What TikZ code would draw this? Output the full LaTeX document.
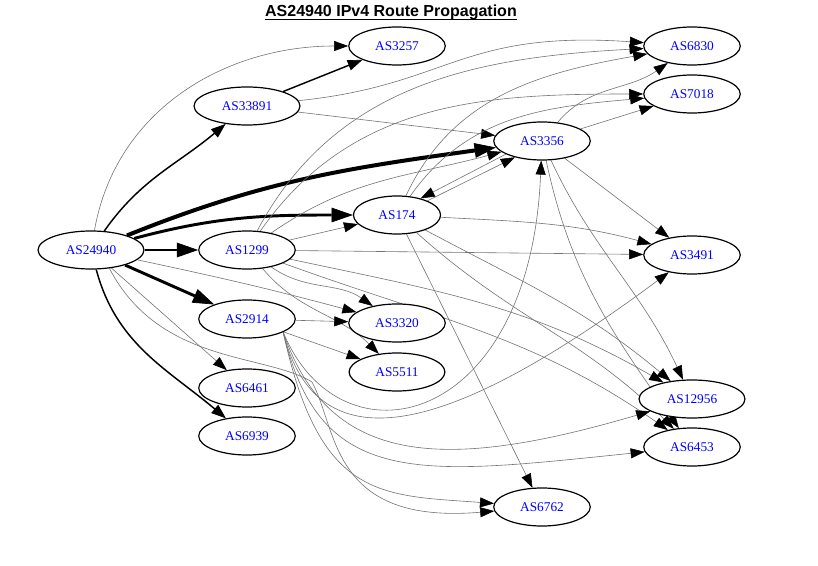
\documentclass[tikz,border=0pt]{standalone}
\usepackage{fontspec}
\setmainfont{Liberation Serif}
\newfontfamily\ttlfont{Liberation Sans}
\usetikzlibrary{arrows.meta}
\usetikzlibrary{shapes.geometric}
\usetikzlibrary{backgrounds}
\colorlet{aslabel}{blue}
\colorlet{thinedge}{black!55}
\tikzset{gvp/.style={
  x=0.75pt,
  y=0.75pt
}}
\tikzset{asn/.style={
  draw,
  line width=0.9pt,
  fill=white,
  shape=ellipse,
  inner xsep=9.2pt,
  inner ysep=2pt,
  minimum height=28.5pt,
  text=aslabel,
  font=\fontsize{10}{12}\selectfont
}}
\tikzset{ttl/.style={
  anchor=base,
  inner sep=0pt,
  font={\ttlfont\bfseries\fontsize{12}{14}\selectfont}
}}
\tikzset{thn/.style={
  draw=thinedge,
  line width=0.45pt,
  -{Triangle[length=10.5pt,width=7.5pt,line width=0.4pt,black]}
}}
\tikzset{med/.style={
  draw=black,
  line width=1.1pt,
  -{Triangle[length=11pt,width=8pt,line width=0.5pt]}
}}
\tikzset{thk/.style={
  draw=black,
  line width=2.2pt,
  -{Triangle[length=16pt,width=11pt,line width=0.5pt]}
}}
\tikzset{vth/.style={thk,line width=3pt}}

\begin{document}
\begin{tikzpicture}[gvp]

    \useasboundingbox (0,0) rectangle (818,565);

    %% Title

    \node[ttl] (title) at (391,548) {AS24940 IPv4 Route Propagation};
    \draw[line width=0.9pt]
      ([yshift=-1.6pt]title.base west) -- ([yshift=-1.6pt]title.base east);

    %% Autonomous systems

    % Left columns
    \node[asn] (AS24940) at (91,315) {AS24940};
    \node[asn] (AS33891) at (247,459) {AS33891};
    \node[asn] (AS1299) at (247,315) {AS1299};
    \node[asn] (AS2914) at (247,246) {AS2914};
    \node[asn] (AS6461) at (247,177) {AS6461};
    \node[asn] (AS6939) at (247,129) {AS6939};
    \node[asn] (AS3257) at (397,519) {AS3257};
    \node[asn] (AS174) at (397,350) {AS174};
    \node[asn] (AS3320) at (397,242) {AS3320};
    \node[asn] (AS5511) at (397,193) {AS5511};

    % Right columns
    \node[asn] (AS3356) at (542,424) {AS3356};
    \node[asn] (AS6762) at (542,58) {AS6762};
    \node[asn] (AS6830) at (692,519) {AS6830};
    \node[asn] (AS7018) at (692,471) {AS7018};
    \node[asn] (AS3491) at (692,310) {AS3491};
    \node[asn] (AS12956) at (692,166) {AS12956};
    \node[asn] (AS6453) at (692,118) {AS6453};

    \coordinate (via6762) at (312,183);

    %% Propagation edges

    \begin{scope}[on background layer]
    % From the origin
    \draw[thn] (AS24940) to[out=80,in=180] (AS3257);
    \draw[med] (AS24940) to[out=55,in=220] (AS33891);
    \draw[vth] (AS24940) to[out=22,in=188] (AS3356);
    \draw[thk] (AS24940) to[out=15,in=180] (AS174);
    \draw[thk] (AS24940) -- (AS1299);
    \draw[thk] (AS24940) -- (AS2914);
    \draw[thn] (AS24940) -- (AS6461);
    \draw[med] (AS24940) to[out=-75,in=140] (AS6939);
    \draw[thn] (AS24940) to[out=-12,in=165] (AS3320);
    \draw[thn] (AS24940.-45) .. controls (160,200) and (265,212) .. (via6762)
      .. controls (338,135) and (330,40) .. (AS6762);

    % AS33891
    \draw[med] (AS33891) -- (AS3257);
    \draw[thn] (AS33891) .. controls (450,480) and (460,535) .. (AS6830);
    \draw[thn] (AS33891) -- (AS3356);

    % AS1299
    \draw[thn] (AS1299) -- (AS174);
    \draw[thn] (AS1299) to[out=35,in=195] (AS3356);
    \draw[thn] (AS1299) to[out=62,in=183] (AS6830);
    \draw[thn] (AS1299) to[out=55,in=180] (AS7018);
    \draw[thn] (AS1299) -- (AS3491);
    \draw[thn] (AS1299) to[out=-35,in=145] (AS3320);
    \draw[thn] (AS1299) to[out=-50,in=135] (AS5511);
    \draw[thn] (AS1299) to[out=-12,in=150] (AS12956);
    \draw[thn] (AS1299) to[out=-20,in=145] (AS6453);

    % AS174
    \draw[thn] (AS174.25) -- (AS3356.211);
    \draw[thn] (AS174) to[out=65,in=190] (AS6830);
    \draw[thn] (AS174) to[out=55,in=185] (AS7018);
    \draw[thn] (AS174) to[out=-3,in=165] (AS3491);
    \draw[thn] (AS174) to[out=-28,in=140] (AS12956);
    \draw[thn] (AS174) to[out=-42,in=135] (AS6453);
    \draw[thn] (AS174) -- (AS6762);

    % AS3356
    \draw[thn] (AS3356.200) -- (AS174.35);
    \draw[thn] (AS3356) to[out=50,in=215] (AS6830);
    \draw[thn] (AS3356) -- (AS7018);
    \draw[thn] (AS3356) -- (AS3491);
    \draw[thn] (AS3356) to[out=-65,in=115] (AS12956);
    \draw[thn] (AS3356) to[out=-78,in=125] (AS6453);

    % AS2914
    \draw[thn] (AS2914) -- (AS3320);
    \draw[thn] (AS2914) -- (AS5511);
    \draw[thn] (AS2914.-20) .. controls (340,95) and (530,135) .. (AS3356);
    \draw[thn] (AS2914.-20) .. controls (320,85) and (470,145) .. (AS3491);
    \draw[thn] (AS2914.-20) .. controls (330,95) and (450,95) .. (AS12956);
    \draw[thn] (AS2914.-20) .. controls (320,75) and (420,90) .. (AS6453);
    \draw[thn] (AS2914.-20) .. controls (320,65) and (380,70) .. (AS6762);
    \end{scope}

  \end{tikzpicture}
\end{document}
